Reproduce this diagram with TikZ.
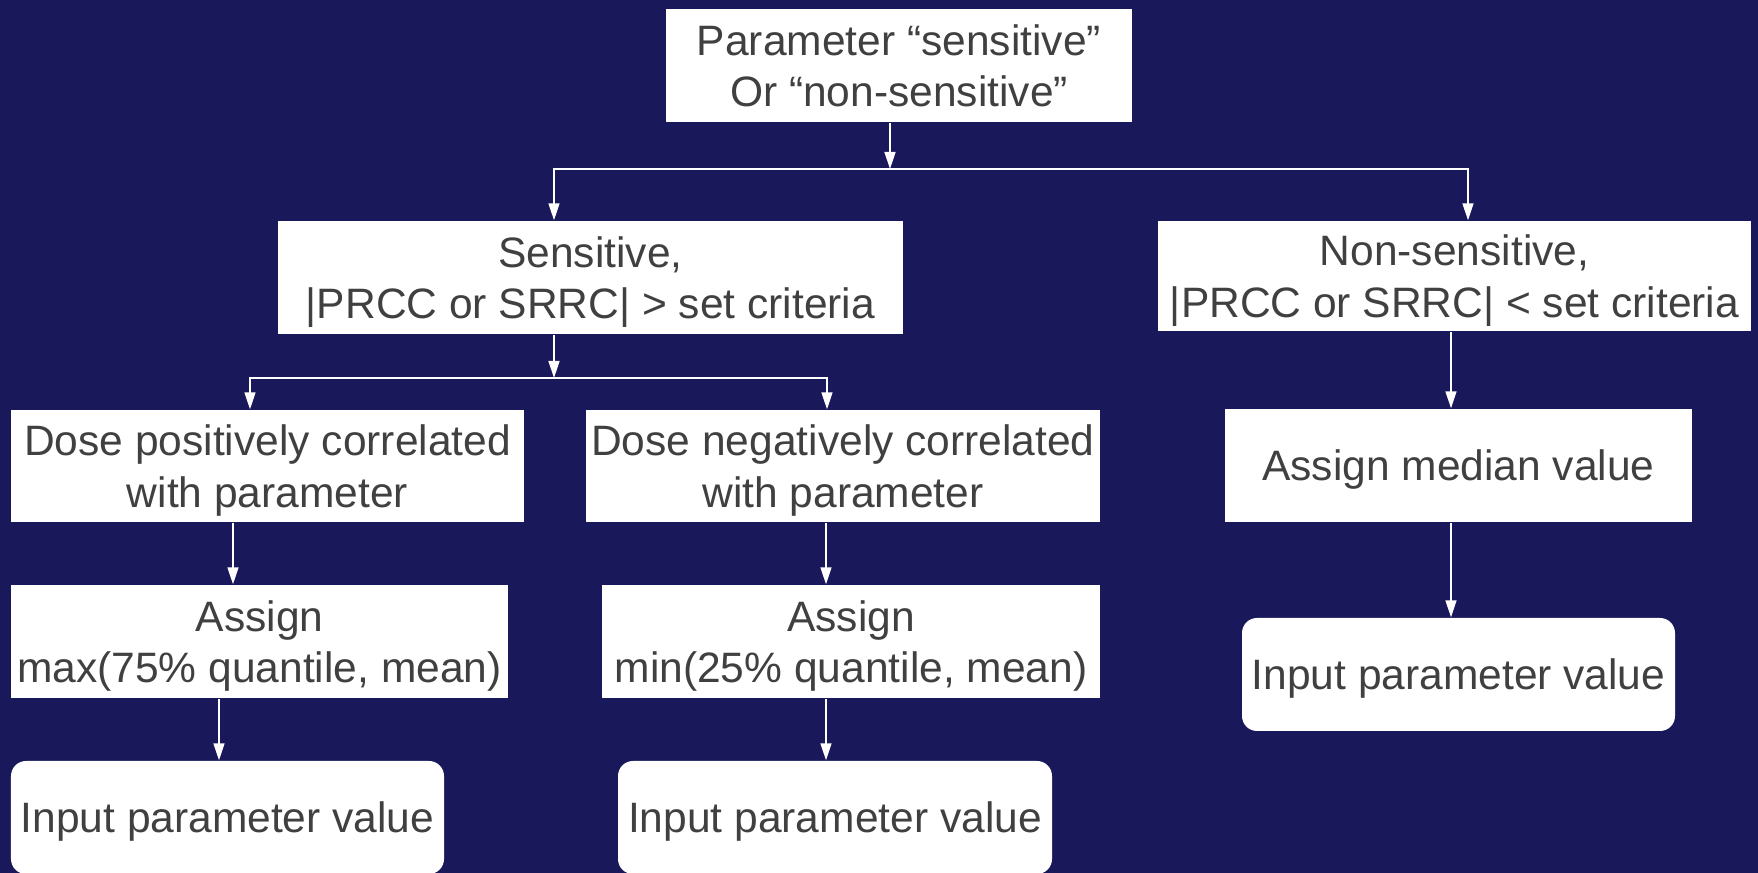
\documentclass[tikz,border=0pt]{standalone}
\usepackage{fontspec}
\setmainfont{Liberation Sans}
\usetikzlibrary{arrows.meta}
\definecolor{navy}{RGB}{24,24,90}
\definecolor{boxtext}{RGB}{64,64,64}
\tikzset{
    flow box/.style = {
        shape = rectangle,
        align = center,
        fill  = white,
        text  = boxtext,
        minimum width=#1,
        minimum height=1.13cm,
        text depth=0pt,
        inner sep=0pt
    },
    input box/.style = {
        flow box = #1,
        rounded corners=1.5mm
    },
    link/.style = {
        draw = white,
        line width=0.45pt
    }
}

\begin{document}
\begin{tikzpicture}[font=\fontsize{12.1}{14.7}\selectfont, >={Triangle[width=1.1mm,length=1.7mm]}]
      \fill[navy] (0,0) rectangle (17.58,-8.73);
      \useasboundingbox (0,0) rectangle (17.58,-8.73);

      \node (param) at (8.99,-0.655) [flow box=4.66cm] {Parameter “sensitive”\\Or “non-sensitive”};

      \node (sens) at (5.905,-2.775) [flow box=6.25cm] {Sensitive,\\|PRCC or SRRC| > set criteria};
      \node (nons) at (14.545,-2.76) [flow box=5.93cm, minimum height=1.10cm] {Non-sensitive,\\|PRCC or SRRC| < set criteria};

      \node (pos) at (2.675,-4.66) [flow box=5.13cm, minimum height=1.12cm] {Dose positively correlated\\with parameter};
      \node (neg) at (8.43,-4.66) [flow box=5.14cm, minimum height=1.12cm] {Dose negatively correlated\\with parameter};
      \node (amed) at (14.585,-4.655) [flow box=4.67cm] {Assign median value};

      \node (amax) at (2.595,-6.415) [flow box=4.97cm] {Assign\\max(75\% quantile, mean)};
      \node (amin) at (8.51,-6.415) [flow box=4.98cm] {Assign\\min(25\% quantile, mean)};
      \node (inon) at (14.585,-6.745) [input box=4.33cm] {Input parameter value};

      \node (ipos) at (2.275,-8.175) [input box=4.33cm] {Input parameter value};
      \node (ineg) at (8.35,-8.175) [input box=4.34cm] {Input parameter value};

      % junctions
      \coordinate (split1) at (8.90,-1.69);
      \coordinate (split2) at (5.54,-3.78);

      \draw[link,->] (param.south -| split1) -- (split1);
      \draw[link,->] (split1) -| (sens.north -| split2);
      \draw[link,->] (split1) -| (nons.north -| 14.68,0);

      \draw[link,->] (sens.south -| split2) -- (split2);
      \draw[link,->] (split2) -| (pos.north -| 2.50,0);
      \draw[link,->] (split2) -| (neg.north -| 8.27,0);

      \draw[link,->] (pos.south -| 2.33,0) -- (amax.north -| 2.33,0);
      \draw[link,->] (neg.south -| 8.26,0) -- (amin.north -| 8.26,0);
      \draw[link,->] (amax.south -| 2.19,0) -- (ipos.north -| 2.19,0);
      \draw[link,->] (amin.south -| 8.26,0) -- (ineg.north -| 8.26,0);

      \draw[link,->] (nons.south -| 14.51,0) -- (amed.north -| 14.51,0);
      \draw[link,->] (amed.south -| 14.51,0) -- (inon.north -| 14.51,0);
\end{tikzpicture}
\end{document}
